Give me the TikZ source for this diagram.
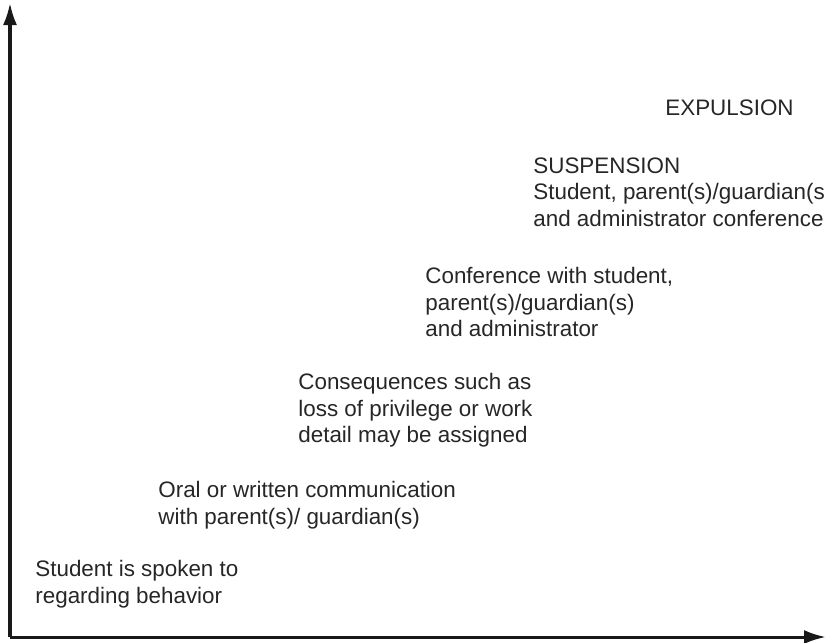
\documentclass[tikz,border=0pt]{standalone}
\usepackage{fontspec}
\setmainfont{Liberation Sans}
\usetikzlibrary{arrows.meta}
\tikzstyle{stage} = [anchor=north west, align=left, inner sep=0pt,
    text=black!85, font=\fontsize{11.2}{13.25}\selectfont]
\tikzstyle{axis} = [draw, line width=1.5pt, black!90,
    -{Latex[length=11pt, width=7pt]}]

\begin{document}
\begin{tikzpicture}[x=0.5pt, y=-0.5pt]
    % keep the page as large as the reference
    \useasboundingbox (0,0) rectangle (827,643);
    % We start with the two axes
    \coordinate (origin) at (10,637);
    \coordinate (ytop) at (10,3);
    \coordinate (xend) at (826,637);
    \draw [axis] (origin) -- (ytop);
    \draw [axis] (origin) -- (xend);

    % Then the steps, from bottom left to top right
    \node [stage] (spoken) at (35,560) {Student is spoken to\\regarding behavior};
    \node [stage] (contact) at (158,481) {Oral or written communication\\with parent(s)/ guardian(s)};
    \node [stage] (consequence) at (298,373) {Consequences such as\\loss of privilege or work\\detail may be assigned};
    \node [stage] (conference) at (425,267) {Conference with student,\\parent(s)/guardian(s)\\and administrator};
    \node [stage] (suspension) at (533,157) {SUSPENSION\\Student, parent(s)/guardian(s\\and administrator conference};
    \node [stage] (expulsion) at (665,99) {EXPULSION};
\end{tikzpicture}
\end{document}
